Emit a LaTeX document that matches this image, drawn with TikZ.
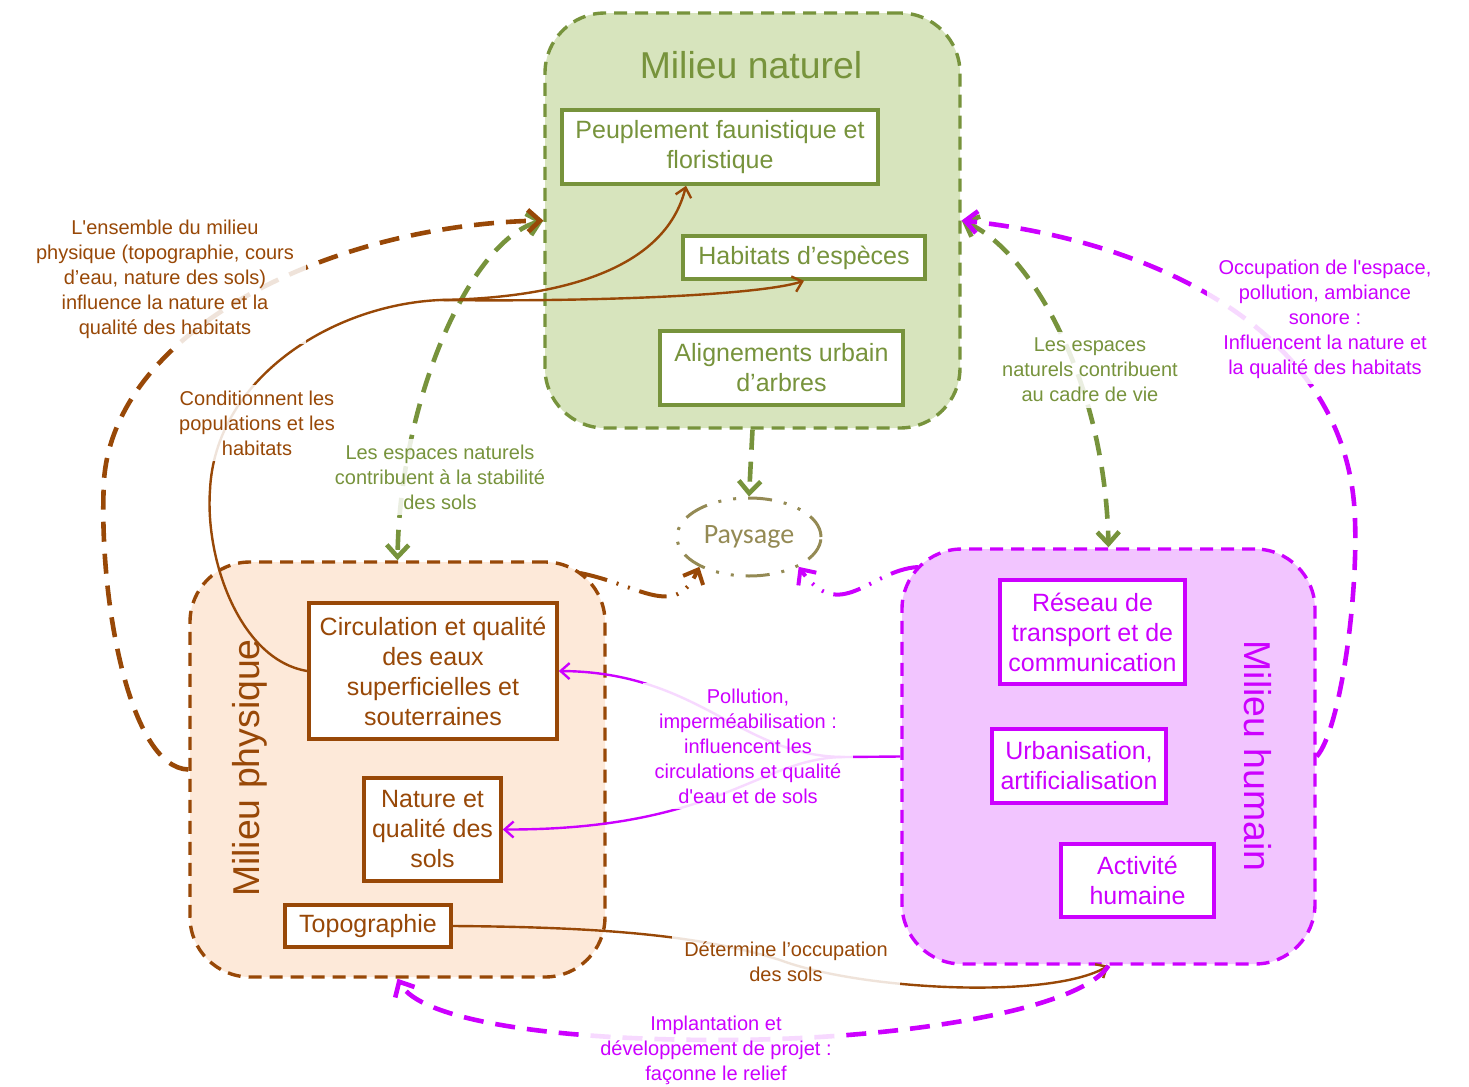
\documentclass[tikz,border=0pt]{standalone}
\usepackage{fontspec}
\setmainfont{Liberation Sans}
% plain family: straight apostrophes stay straight
\newfontfamily\lib{Liberation Sans}
\newfontfamily\paysfont{Carlito}
\usetikzlibrary{arrows.meta,shapes.geometric}

\definecolor{vert}{HTML}{77933C}
\definecolor{vertfond}{HTML}{D7E4BD}
\definecolor{brun}{HTML}{984807}
\definecolor{brunfond}{HTML}{FDE9D9}
\definecolor{magenta}{HTML}{CC00FF}
\definecolor{magentafond}{HTML}{F2C5FF}
\definecolor{taupe}{HTML}{948A54}

\begin{document}
\begin{tikzpicture}[x=0.5pt,y=-0.5pt,
  milieu/.style={draw, rounded corners=30pt, line width=1.7pt,
    dash pattern=on 6.5pt off 4pt, minimum width=207.5pt,
    minimum height=207.5pt, inner sep=0pt},
  titre/.style={font=\lib\fontsize{18.7}{22}\selectfont},
  boite/.style={draw, fill=white, line width=1.8pt, align=center,
    inner sep=0pt, font=\lib\fontsize{12.5}{15}\selectfont},
  etiquette/.style={fill=white, fill opacity=0.85, text opacity=1,
    align=center, inner xsep=6pt, inner ysep=3pt,
    font=\lib\fontsize{10}{12.5}\selectfont},
  pointille/.style={line width=2.3pt, dash pattern=on 10pt off 6pt},
  tiret/.style={line width=2pt,
    dash pattern=on 14pt off 5pt on 1pt off 5pt on 1pt off 5pt},
  fin/.style={line width=1.2pt},
  grande/.tip={Straight Barb[length=6pt,width=11pt]},
  petite/.tip={Straight Barb[length=4.5pt,width=8pt]}
]
\useasboundingbox (0,0) rectangle (1469,1087);

% --- the three environments ---
\node[milieu, draw=vert, fill=vertfond] (nat) at (752.5,220.5) {};
\node[milieu, draw=brun, fill=brunfond] (phy) at (397.5,769.5) {};
\node[milieu, draw=magenta, fill=magentafond, minimum width=206.5pt] (hum) at (1108.5,756.5) {};

\node[titre, text=vert] (tnat) at (751,65) {Milieu naturel};
\node[titre, text=brun, rotate=90] (tphy) at (250,768) {Milieu physique};
\node[titre, text=magenta, rotate=-90] (thum) at (1258,756) {Milieu humain};

% --- inner boxes ---
\node[boite, draw=vert, text=vert, minimum width=158pt, minimum height=37pt] (peup) at (720,147) {Peuplement faunistique et\\floristique};
\node[boite, draw=vert, text=vert, minimum width=121pt, minimum height=21.5pt] (hab) at (804,257.5) {Habitats d’espèces};
\node[boite, draw=vert, text=vert, minimum width=121.5pt, minimum height=37pt] (align) at (781.5,368) {Alignements urbain\\d’arbres};

\node[boite, draw=brun, text=brun, minimum width=124pt, minimum height=68pt] (circ) at (433,671) {Circulation et qualité\\des eaux\\superficielles et\\souterraines};
\node[boite, draw=brun, text=brun, minimum width=68.5pt, minimum height=51.5pt] (sols) at (432.5,829.5) {Nature et\\qualité des\\sols};
\node[boite, draw=brun, text=brun, minimum width=83pt, minimum height=21pt] (topo) at (368,926) {Topographie};

\node[boite, draw=magenta, text=magenta, minimum width=92.5pt, minimum height=52pt] (reseau) at (1092.5,632) {Réseau de\\transport et de\\communication};
\node[boite, draw=magenta, text=magenta, minimum width=87pt, minimum height=37pt] (urba) at (1079,766) {Urbanisation,\\artificialisation};
\node[boite, draw=magenta, text=magenta, minimum width=76.5pt, minimum height=36.5pt] (activ) at (1137.5,880.5) {Activité\\humaine};

% --- landscape ---
\node[ellipse, draw=taupe, line width=1.5pt,
  dash pattern=on 12pt off 6pt on 1.5pt off 6pt on 1.5pt off 6pt,
  minimum width=72pt, minimum height=39pt, inner sep=0pt,
  text=taupe, font=\paysfont\fontsize{14}{16}\selectfont] (pays) at (749,537) {Paysage};

% --- junction points and free ends ---
\coordinate (bj) at (440,300);
\coordinate (mj) at (845,757);
\coordinate (phycoin) at (580,573);
\coordinate (humcoin) at (918,567);

% --- green links ---
\draw[vert, pointille, grande-grande] (nat.west) .. controls (470,240) and (400,400) .. (phy.north);
\draw[vert, pointille, grande-grande] (nat.east) .. controls (1030,250) and (1105,380) .. (hum.north);
\draw[vert, pointille, -grande] (nat.south) -- (pays.north);

% --- brown links ---
\draw[brun, pointille, -grande] (phy.west) .. controls (130,768) and (98,600) .. (104,480)
  .. controls (115,330) and (330,225) .. (nat.west);
\draw[brun, fin] (circ.west) .. controls (240,660) and (205,560) .. (210,490)
  .. controls (215,380) and (330,305) .. (bj);
\draw[brun, fin, -petite] (bj) .. controls (560,298) and (665,270) .. ([xshift=-17pt]peup.south);
\draw[brun, fin, -petite] (bj) .. controls (600,302) and (760,295) .. (hab.south);
\draw[brun, fin, -petite] (topo.east) .. controls (600,927) and (700,935) .. (780,960)
  .. controls (860,990) and (1050,1000) .. (hum.south);
\draw[brun, tiret, -grande] (phycoin) .. controls (640,585) and (675,620) .. (pays.211);

% --- magenta links ---
\draw[magenta, pointille, -grande] (hum.east) .. controls (1340,730) and (1358,600) .. (1355,520)
  .. controls (1350,330) and (1150,240) .. (nat.east);
\draw[magenta, pointille, -grande] (hum.south) .. controls (1080,1010) and (900,1040) .. (720,1040)
  .. controls (550,1040) and (420,1020) .. (phy.south);
\draw[magenta, fin] (hum.west) -- (mj);
\draw[magenta, fin, -petite] (mj) .. controls (740,757) and (700,672) .. (circ.east);
\draw[magenta, fin, -petite] (mj) .. controls (760,757) and (720,830) .. (sols.east);
\draw[magenta, tiret, -grande] (humcoin) .. controls (870,570) and (840,625) .. (pays.329);

% --- link labels ---
\node[etiquette, text=brun] (l1) at (165,279) {L'ensemble du milieu\\physique (topographie, cours\\d’eau, nature des sols)\\influence la nature et la\\qualité des habitats};
\node[etiquette, text=brun] (l2) at (257,423) {Conditionnent les\\populations et les\\habitats};
\node[etiquette, text=vert] (l3) at (440,477) {Les espaces naturels\\contribuent à la stabilité\\des sols};
\node[etiquette, text=vert] (l4) at (1090,370) {Les espaces\\naturels contribuent\\au cadre de vie};
\node[etiquette, text=magenta] (l5) at (1325,319) {Occupation de l'espace,\\pollution, ambiance\\sonore :\\Influencent la nature et\\la qualité des habitats};
\node[etiquette, text=magenta] (l6) at (748,746) {Pollution,\\imperméabilisation :\\influencent les\\circulations et qualité\\d'eau et de sols};
\node[etiquette, text=brun] (l7) at (786,962) {Détermine l’occupation\\des sols};
\node[etiquette, text=magenta] (l8) at (716,1050) {Implantation et\\développement de projet :\\façonne le relief};
\end{tikzpicture}
\end{document}
